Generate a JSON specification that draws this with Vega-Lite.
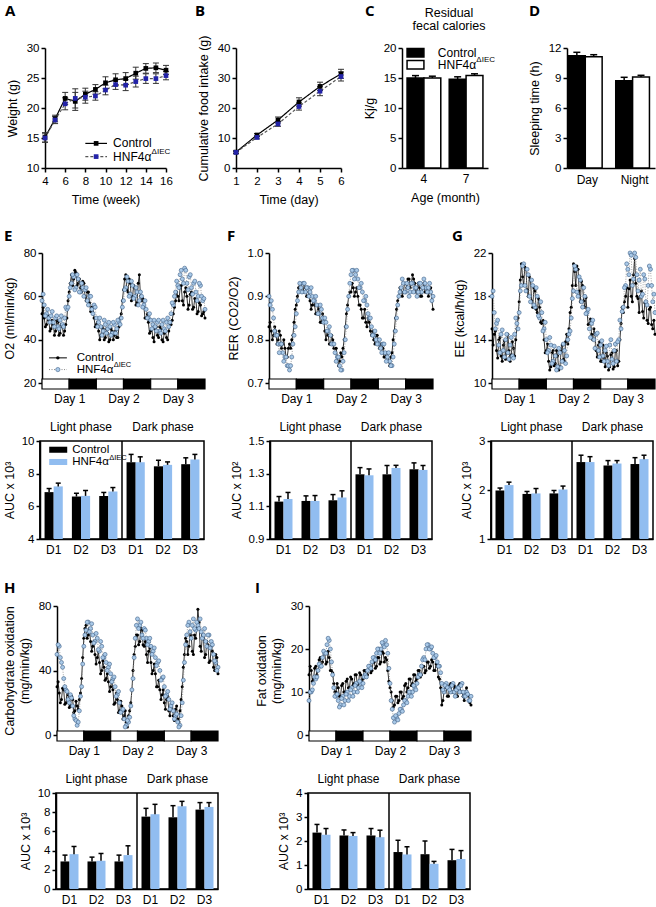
{
"$schema":"https://vega.github.io/schema/vega-lite/v6.json",
"padding":0,
"background":"white",
"data":{"values":[]},
"datasets":{
"ld":[{"s":0,"e":12,"p":"L"},{"s":12,"e":24,"p":"D"},{"s":24,"e":36,"p":"L"},{"s":36,"e":48,"p":"D"},{"s":48,"e":60,"p":"L"},{"s":60,"e":72,"p":"D"}],
"ph":[{"p":"Light phase"},{"p":"Dark phase"}],
"A":[{"x":4,"g":"C","m":15.1,"lo":14.3,"hi":15.9},{"x":5,"g":"C","m":18.2,"lo":17.7,"hi":18.8},{"x":6,"g":"C","m":21.6,"lo":20.6,"hi":22.6},{"x":7,"g":"C","m":21.1,"lo":19.6,"hi":22.6},{"x":8,"g":"C","m":22.3,"lo":21.3,"hi":23.3},{"x":9,"g":"C","m":23.1,"lo":22.3,"hi":23.9},{"x":10,"g":"C","m":24.2,"lo":23.2,"hi":25.2},{"x":11,"g":"C","m":24.7,"lo":23.7,"hi":25.7},{"x":12,"g":"C","m":24.9,"lo":23.9,"hi":25.9},{"x":13,"g":"C","m":25.8,"lo":24.8,"hi":26.8},{"x":14,"g":"C","m":26.6,"lo":25.8,"hi":27.4},{"x":15,"g":"C","m":26.7,"lo":25.9,"hi":27.5},{"x":16,"g":"C","m":26.3,"lo":25.6,"hi":27.1},
{"x":4,"g":"H","m":15.0,"lo":14.3,"hi":15.7},{"x":5,"g":"H","m":18.0,"lo":17.4,"hi":18.6},{"x":6,"g":"H","m":20.7,"lo":19.7,"hi":21.7},{"x":7,"g":"H","m":21.6,"lo":20.0,"hi":23.2},{"x":8,"g":"H","m":21.8,"lo":20.8,"hi":22.8},{"x":9,"g":"H","m":22.0,"lo":21.3,"hi":22.7},{"x":10,"g":"H","m":23.0,"lo":22.2,"hi":23.8},{"x":11,"g":"H","m":23.9,"lo":23.1,"hi":24.7},{"x":12,"g":"H","m":23.8,"lo":22.9,"hi":24.7},{"x":13,"g":"H","m":24.4,"lo":23.5,"hi":25.3},{"x":14,"g":"H","m":24.9,"lo":24.1,"hi":25.7},{"x":15,"g":"H","m":24.9,"lo":24.1,"hi":25.7},{"x":16,"g":"H","m":25.4,"lo":24.7,"hi":26.1}],
"B":[{"x":1,"g":"C","m":5.3,"lo":4.9,"hi":5.7},{"x":2,"g":"C","m":11.0,"lo":10.5,"hi":11.5},{"x":3,"g":"C","m":16.0,"lo":15.0,"hi":17.0},{"x":4,"g":"C","m":22.0,"lo":20.6,"hi":23.4},{"x":5,"g":"C","m":27.2,"lo":25.8,"hi":28.6},{"x":6,"g":"C","m":31.4,"lo":29.9,"hi":32.9},
{"x":1,"g":"H","m":5.2,"lo":4.8,"hi":5.6},{"x":2,"g":"H","m":10.2,"lo":9.7,"hi":10.7},{"x":3,"g":"H","m":14.7,"lo":13.9,"hi":15.5},{"x":4,"g":"H","m":20.5,"lo":19.3,"hi":21.7},{"x":5,"g":"H","m":25.6,"lo":24.1,"hi":27.1},{"x":6,"g":"H","m":30.5,"lo":29.0,"hi":32.0}],
"Cb":[{"a":"4","g":"C","m":15.0,"u":15.4},{"a":"4","g":"H","m":15.0,"u":15.3},{"a":"7","g":"C","m":14.8,"u":15.2},{"a":"7","g":"H","m":15.4,"u":15.7}],
"Db":[{"a":"Day","g":"C","m":11.23,"u":11.57},{"a":"Day","g":"H","m":11.13,"u":11.33},{"a":"Night","g":"C","m":8.73,"u":9.07},{"a":"Night","g":"H","m":9.1,"u":9.27}],
"Eb":[{"b":"L1C","g":"C","m":6.87,"u":7.09},{"b":"L1H","g":"H","m":7.22,"u":7.42},{"b":"L2C","g":"C","m":6.6,"u":6.8},{"b":"L2H","g":"H","m":6.64,"u":6.97},{"b":"L3C","g":"C","m":6.64,"u":6.85},{"b":"L3H","g":"H","m":6.91,"u":7.15},{"b":"N1C","g":"C","m":8.7,"u":9.18},{"b":"N1H","g":"H","m":8.7,"u":9.03},{"b":"N2C","g":"C","m":8.45,"u":8.82},{"b":"N2H","g":"H","m":8.54,"u":8.72},{"b":"N3C","g":"C","m":8.58,"u":8.97},{"b":"N3H","g":"H","m":8.87,"u":9.18}],
"Fb":[{"b":"L1C","g":"C","m":1.129,"u":1.16},{"b":"L1H","g":"H","m":1.145,"u":1.185},{"b":"L2C","g":"C","m":1.133,"u":1.164},{"b":"L2H","g":"H","m":1.133,"u":1.166},{"b":"L3C","g":"C","m":1.137,"u":1.172},{"b":"L3H","g":"H","m":1.154,"u":1.195},{"b":"N1C","g":"C","m":1.296,"u":1.337},{"b":"N1H","g":"H","m":1.29,"u":1.329},{"b":"N2C","g":"C","m":1.296,"u":1.35},{"b":"N2H","g":"H","m":1.335,"u":1.351},{"b":"N3C","g":"C","m":1.327,"u":1.366},{"b":"N3H","g":"H","m":1.323,"u":1.35}],
"Gb":[{"b":"L1C","g":"C","m":1.99,"u":2.04},{"b":"L1H","g":"H","m":2.10,"u":2.16},{"b":"L2C","g":"C","m":1.92,"u":1.97},{"b":"L2H","g":"H","m":1.93,"u":2.03},{"b":"L3C","g":"C","m":1.93,"u":1.99},{"b":"L3H","g":"H","m":2.01,"u":2.08},{"b":"N1C","g":"C","m":2.57,"u":2.71},{"b":"N1H","g":"H","m":2.57,"u":2.68},{"b":"N2C","g":"C","m":2.5,"u":2.6},{"b":"N2H","g":"H","m":2.54,"u":2.6},{"b":"N3C","g":"C","m":2.53,"u":2.66},{"b":"N3H","g":"H","m":2.63,"u":2.71}],
"Hb":[{"b":"L1C","g":"C","m":2.87,"u":3.53},{"b":"L1H","g":"H","m":3.63,"u":4.43},{"b":"L2C","g":"C","m":2.87,"u":3.32},{"b":"L2H","g":"H","m":2.94,"u":3.7},{"b":"L3C","g":"C","m":2.87,"u":3.53},{"b":"L3H","g":"H","m":3.53,"u":4.5},{"b":"N1C","g":"C","m":7.54,"u":8.4},{"b":"N1H","g":"H","m":7.79,"u":8.82},{"b":"N2C","g":"C","m":7.47,"u":8.68},{"b":"N2H","g":"H","m":8.62,"u":9.13},{"b":"N3C","g":"C","m":8.27,"u":9.0},{"b":"N3H","g":"H","m":8.55,"u":9.0}],
"Ib":[{"b":"L1C","g":"C","m":2.35,"u":2.69},{"b":"L1H","g":"H","m":2.26,"u":2.52},{"b":"L2C","g":"C","m":2.23,"u":2.46},{"b":"L2H","g":"H","m":2.21,"u":2.35},{"b":"L3C","g":"C","m":2.23,"u":2.52},{"b":"L3H","g":"H","m":2.16,"u":2.45},{"b":"N1C","g":"C","m":1.54,"u":2.03},{"b":"N1H","g":"H","m":1.44,"u":1.76},{"b":"N2C","g":"C","m":1.45,"u":2.0},{"b":"N2H","g":"H","m":1.05,"u":1.15},{"b":"N3C","g":"C","m":1.2,"u":1.65},{"b":"N3H","g":"H","m":1.25,"u":1.6}],
"E":[{"t":0,"c":52,"h":58},{"t":1,"c":50,"h":56},{"t":2,"c":47,"h":52},{"t":3,"c":49,"h":50},{"t":4,"c":45,"h":51},{"t":5,"c":47,"h":48},{"t":6,"c":44,"h":50},{"t":7,"c":48,"h":46},{"t":8,"c":43,"h":49},{"t":9,"c":46,"h":47},{"t":10,"c":44,"h":50},{"t":11,"c":50,"h":54},{"t":12,"c":62,"h":60},{"t":13,"c":70,"h":66},{"t":14,"c":68,"h":69},{"t":15,"c":71,"h":64},{"t":16,"c":66,"h":68},{"t":17,"c":64,"h":62},{"t":18,"c":67,"h":64},{"t":19,"c":60,"h":63},{"t":20,"c":62,"h":58},{"t":21,"c":57,"h":60},{"t":22,"c":55,"h":54},{"t":23,"c":50,"h":56},{"t":24,"c":47,"h":50},{"t":25,"c":44,"h":48},{"t":26,"c":42,"h":46},{"t":27,"c":45,"h":44},{"t":28,"c":41,"h":47},{"t":29,"c":43,"h":45},{"t":30,"c":40,"h":46},{"t":31,"c":44,"h":43},{"t":32,"c":42,"h":47},{"t":33,"c":41,"h":45},{"t":34,"c":46,"h":48},{"t":35,"c":52,"h":50},{"t":36,"c":63,"h":58},{"t":37,"c":70,"h":64},{"t":38,"c":62,"h":67},{"t":39,"c":66,"h":61},{"t":40,"c":60,"h":65},{"t":41,"c":64,"h":60},{"t":42,"c":57,"h":62},{"t":43,"c":70,"h":58},{"t":44,"c":58,"h":60},{"t":45,"c":55,"h":56},{"t":46,"c":50,"h":54},{"t":47,"c":48,"h":50},{"t":48,"c":44,"h":49},{"t":49,"c":41,"h":47},{"t":50,"c":45,"h":46},{"t":51,"c":42,"h":48},{"t":52,"c":46,"h":44},{"t":53,"c":40,"h":47},{"t":54,"c":43,"h":45},{"t":55,"c":41,"h":48},{"t":56,"c":44,"h":46},{"t":57,"c":47,"h":52},{"t":58,"c":52,"h":56},{"t":59,"c":58,"h":62},{"t":60,"c":60,"h":65},{"t":61,"c":64,"h":70},{"t":62,"c":58,"h":68},{"t":63,"c":62,"h":73},{"t":64,"c":60,"h":66},{"t":65,"c":56,"h":69},{"t":66,"c":62,"h":64},{"t":67,"c":55,"h":66},{"t":68,"c":58,"h":62},{"t":69,"c":53,"h":60},{"t":70,"c":56,"h":65},{"t":71,"c":52,"h":58},{"t":72,"c":50,"h":54},
{"t":0.5,"c":55,"h":61},{"t":1.5,"c":46,"h":51},{"t":2.5,"c":51,"h":54},{"t":3.5,"c":44,"h":48},{"t":4.5,"c":49,"h":53},{"t":5.5,"c":42,"h":46},{"t":6.5,"c":49,"h":51},{"t":7.5,"c":42,"h":45},{"t":8.5,"c":47,"h":51},{"t":9.5,"c":42,"h":46},{"t":10.5,"c":47,"h":55},{"t":11.5,"c":58,"h":55},{"t":12.5,"c":66,"h":64},{"t":13.5,"c":65,"h":70},{"t":14.5,"c":72,"h":63},{"t":15.5,"c":65,"h":70},{"t":16.5,"c":68,"h":62},{"t":17.5,"c":62,"h":66},{"t":18.5,"c":66,"h":60},{"t":19.5,"c":58,"h":64},{"t":20.5,"c":62,"h":56},{"t":21.5,"c":53,"h":60},{"t":22.5,"c":55,"h":52},{"t":23.5,"c":46,"h":55},{"t":24.5,"c":48,"h":46},{"t":25.5,"c":40,"h":50},{"t":26.5,"c":46,"h":42},{"t":27.5,"c":40,"h":49},{"t":28.5,"c":45,"h":43},{"t":29.5,"c":39,"h":48},{"t":30.5,"c":45,"h":42},{"t":31.5,"c":40,"h":48},{"t":32.5,"c":44,"h":43},{"t":33.5,"c":41,"h":49},{"t":34.5,"c":50,"h":47},{"t":35.5,"c":58,"h":55},{"t":36.5,"c":68,"h":63},{"t":37.5,"c":63,"h":69},{"t":38.5,"c":68,"h":60},{"t":39.5,"c":58,"h":67},{"t":40.5,"c":65,"h":59},{"t":41.5,"c":56,"h":64},{"t":42.5,"c":66,"h":56},{"t":43.5,"c":60,"h":62},{"t":44.5,"c":59,"h":55},{"t":45.5,"c":50,"h":58},{"t":46.5,"c":52,"h":50},{"t":47.5,"c":43,"h":52},{"t":48.5,"c":45,"h":45},{"t":49.5,"c":39,"h":49},{"t":50.5,"c":46,"h":44},{"t":51.5,"c":41,"h":49},{"t":52.5,"c":45,"h":43},{"t":53.5,"c":39,"h":49},{"t":54.5,"c":44,"h":44},{"t":55.5,"c":40,"h":50},{"t":56.5,"c":48,"h":48},{"t":57.5,"c":49,"h":57},{"t":58.5,"c":55,"h":60},{"t":59.5,"c":62,"h":67},{"t":60.5,"c":58,"h":64},{"t":61.5,"c":65,"h":72},{"t":62.5,"c":56,"h":66},{"t":63.5,"c":64,"h":72},{"t":64.5,"c":54,"h":63},{"t":65.5,"c":61,"h":70},{"t":66.5,"c":54,"h":61},{"t":67.5,"c":59,"h":67},{"t":68.5,"c":52,"h":58},{"t":69.5,"c":57,"h":66},{"t":70.5,"c":51,"h":60},{"t":71.5,"c":53,"h":59}],
"F":[{"t":0,"c":0.83,"h":0.90},{"t":1,"c":0.82,"h":0.89},{"t":2,"c":0.81,"h":0.85},{"t":3,"c":0.82,"h":0.81},{"t":4,"c":0.80,"h":0.79},{"t":5,"c":0.81,"h":0.79},{"t":6,"c":0.79,"h":0.77},{"t":7,"c":0.78,"h":0.76},{"t":8,"c":0.76,"h":0.74},{"t":9,"c":0.79,"h":0.73},{"t":10,"c":0.80,"h":0.76},{"t":11,"c":0.84,"h":0.81},{"t":12,"c":0.88,"h":0.86},{"t":13,"c":0.92,"h":0.91},{"t":14,"c":0.93,"h":0.92},{"t":15,"c":0.91,"h":0.93},{"t":16,"c":0.92,"h":0.91},{"t":17,"c":0.90,"h":0.92},{"t":18,"c":0.89,"h":0.91},{"t":19,"c":0.88,"h":0.90},{"t":20,"c":0.88,"h":0.89},{"t":21,"c":0.86,"h":0.88},{"t":22,"c":0.87,"h":0.86},{"t":23,"c":0.84,"h":0.87},{"t":24,"c":0.85,"h":0.84},{"t":25,"c":0.80,"h":0.84},{"t":26,"c":0.81,"h":0.82},{"t":27,"c":0.79,"h":0.81},{"t":28,"c":0.80,"h":0.79},{"t":29,"c":0.78,"h":0.77},{"t":30,"c":0.76,"h":0.76},{"t":31,"c":0.75,"h":0.74},{"t":32,"c":0.76,"h":0.73},{"t":33,"c":0.80,"h":0.77},{"t":34,"c":0.86,"h":0.83},{"t":35,"c":0.90,"h":0.90},{"t":36,"c":0.91,"h":0.95},{"t":37,"c":0.92,"h":0.96},{"t":38,"c":0.91,"h":0.95},{"t":39,"c":0.90,"h":0.94},{"t":40,"c":0.88,"h":0.92},{"t":41,"c":0.85,"h":0.91},{"t":42,"c":0.87,"h":0.89},{"t":43,"c":0.83,"h":0.88},{"t":44,"c":0.84,"h":0.85},{"t":45,"c":0.81,"h":0.83},{"t":46,"c":0.80,"h":0.81},{"t":47,"c":0.81,"h":0.80},{"t":48,"c":0.80,"h":0.79},{"t":49,"c":0.79,"h":0.78},{"t":50,"c":0.78,"h":0.79},{"t":51,"c":0.76,"h":0.77},{"t":52,"c":0.77,"h":0.76},{"t":53,"c":0.74,"h":0.75},{"t":54,"c":0.77,"h":0.74},{"t":55,"c":0.82,"h":0.79},{"t":56,"c":0.87,"h":0.85},{"t":57,"c":0.90,"h":0.90},{"t":58,"c":0.92,"h":0.92},{"t":59,"c":0.91,"h":0.93},{"t":60,"c":0.93,"h":0.91},{"t":61,"c":0.94,"h":0.92},{"t":62,"c":0.92,"h":0.91},{"t":63,"c":0.95,"h":0.93},{"t":64,"c":0.93,"h":0.92},{"t":65,"c":0.91,"h":0.90},{"t":66,"c":0.92,"h":0.93},{"t":67,"c":0.90,"h":0.91},{"t":68,"c":0.93,"h":0.94},{"t":69,"c":0.91,"h":0.92},{"t":70,"c":0.90,"h":0.92},{"t":71,"c":0.92,"h":0.91},{"t":72,"c":0.87,"h":0.90},
{"t":0.5,"c":0.84,"h":0.88},{"t":1.5,"c":0.80,"h":0.87},{"t":2.5,"c":0.83,"h":0.82},{"t":3.5,"c":0.79,"h":0.81},{"t":4.5,"c":0.82,"h":0.77},{"t":5.5,"c":0.78,"h":0.79},{"t":6.5,"c":0.80,"h":0.75},{"t":7.5,"c":0.76,"h":0.76},{"t":8.5,"c":0.78,"h":0.74},{"t":9.5,"c":0.78,"h":0.74},{"t":10.5,"c":0.81,"h":0.79},{"t":11.5,"c":0.87,"h":0.83},{"t":12.5,"c":0.90,"h":0.89},{"t":13.5,"c":0.93,"h":0.93},{"t":14.5,"c":0.91,"h":0.91},{"t":15.5,"c":0.93,"h":0.93},{"t":16.5,"c":0.90,"h":0.92},{"t":17.5,"c":0.91,"h":0.90},{"t":18.5,"c":0.87,"h":0.92},{"t":19.5,"c":0.89,"h":0.89},{"t":20.5,"c":0.86,"h":0.90},{"t":21.5,"c":0.88,"h":0.86},{"t":22.5,"c":0.84,"h":0.88},{"t":23.5,"c":0.86,"h":0.85},{"t":24.5,"c":0.82,"h":0.85},{"t":25.5,"c":0.82,"h":0.82},{"t":26.5,"c":0.79,"h":0.83},{"t":27.5,"c":0.81,"h":0.79},{"t":28.5,"c":0.78,"h":0.79},{"t":29.5,"c":0.78,"h":0.75},{"t":30.5,"c":0.74,"h":0.76},{"t":31.5,"c":0.77,"h":0.73},{"t":32.5,"c":0.78,"h":0.75},{"t":33.5,"c":0.83,"h":0.80},{"t":34.5,"c":0.88,"h":0.87},{"t":35.5,"c":0.91,"h":0.93},{"t":36.5,"c":0.93,"h":0.96},{"t":37.5,"c":0.90,"h":0.94},{"t":38.5,"c":0.92,"h":0.96},{"t":39.5,"c":0.88,"h":0.92},{"t":40.5,"c":0.87,"h":0.93},{"t":41.5,"c":0.85,"h":0.89},{"t":42.5,"c":0.84,"h":0.90},{"t":43.5,"c":0.85,"h":0.86},{"t":44.5,"c":0.82,"h":0.85},{"t":45.5,"c":0.82,"h":0.81},{"t":46.5,"c":0.79,"h":0.82},{"t":47.5,"c":0.81,"h":0.79},{"t":48.5,"c":0.78,"h":0.80},{"t":49.5,"c":0.79,"h":0.77},{"t":50.5,"c":0.76,"h":0.79},{"t":51.5,"c":0.77,"h":0.75},{"t":52.5,"c":0.75,"h":0.77},{"t":53.5,"c":0.76,"h":0.74},{"t":54.5,"c":0.80,"h":0.76},{"t":55.5,"c":0.85,"h":0.82},{"t":56.5,"c":0.89,"h":0.88},{"t":57.5,"c":0.92,"h":0.91},{"t":58.5,"c":0.90,"h":0.94},{"t":59.5,"c":0.93,"h":0.91},{"t":60.5,"c":0.92,"h":0.93},{"t":61.5,"c":0.94,"h":0.90},{"t":62.5,"c":0.93,"h":0.93},{"t":63.5,"c":0.94,"h":0.91},{"t":64.5,"c":0.91,"h":0.92},{"t":65.5,"c":0.93,"h":0.91},{"t":66.5,"c":0.90,"h":0.93},{"t":67.5,"c":0.92,"h":0.92},{"t":68.5,"c":0.91,"h":0.93},{"t":69.5,"c":0.92,"h":0.91},{"t":70.5,"c":0.91,"h":0.93},{"t":71.5,"c":0.89,"h":0.89}],
"G":[{"t":0,"c":15.0,"h":18.0},{"t":1,"c":14.5,"h":16.5},{"t":2,"c":13.0,"h":15.5},{"t":3,"c":14.0,"h":13.5},{"t":4,"c":12.5,"h":14.5},{"t":5,"c":13.5,"h":13.0},{"t":6,"c":12.2,"h":14.0},{"t":7,"c":14.5,"h":12.8},{"t":8,"c":12.0,"h":13.5},{"t":9,"c":13.8,"h":12.5},{"t":10,"c":12.5,"h":14.5},{"t":11,"c":15.0,"h":15.5},{"t":12,"c":17.5,"h":16.5},{"t":13,"c":21.0,"h":19.0},{"t":14,"c":19.0,"h":21.0},{"t":15,"c":20.5,"h":18.5},{"t":16,"c":18.0,"h":20.0},{"t":17,"c":19.5,"h":17.5},{"t":18,"c":17.0,"h":19.0},{"t":19,"c":18.5,"h":17.0},{"t":20,"c":16.5,"h":18.0},{"t":21,"c":17.0,"h":16.0},{"t":22,"c":15.5,"h":16.5},{"t":23,"c":14.0,"h":15.0},{"t":24,"c":13.0,"h":14.0},{"t":25,"c":12.0,"h":13.0},{"t":26,"c":11.5,"h":13.5},{"t":27,"c":13.0,"h":12.0},{"t":28,"c":11.8,"h":12.5},{"t":29,"c":12.5,"h":11.5},{"t":30,"c":11.5,"h":12.8},{"t":31,"c":13.5,"h":12.0},{"t":32,"c":12.0,"h":13.0},{"t":33,"c":14.5,"h":12.5},{"t":34,"c":15.0,"h":14.5},{"t":35,"c":17.0,"h":16.0},{"t":36,"c":21.0,"h":18.5},{"t":37,"c":19.0,"h":20.5},{"t":38,"c":20.5,"h":18.0},{"t":39,"c":17.5,"h":19.5},{"t":40,"c":19.0,"h":17.0},{"t":41,"c":17.0,"h":18.0},{"t":42,"c":16.5,"h":16.5},{"t":43,"c":15.5,"h":15.0},{"t":44,"c":14.5,"h":15.5},{"t":45,"c":15.0,"h":14.0},{"t":46,"c":13.0,"h":14.5},{"t":47,"c":13.5,"h":13.0},{"t":48,"c":12.0,"h":13.5},{"t":49,"c":13.5,"h":12.5},{"t":50,"c":11.5,"h":13.0},{"t":51,"c":12.5,"h":12.0},{"t":52,"c":11.5,"h":13.5},{"t":53,"c":12.8,"h":12.2},{"t":54,"c":11.5,"h":13.0},{"t":55,"c":13.0,"h":12.0},{"t":56,"c":12.0,"h":14.0},{"t":57,"c":15.5,"h":15.0},{"t":58,"c":16.5,"h":17.0},{"t":59,"c":18.0,"h":19.0},{"t":60,"c":17.0,"h":20.5},{"t":61,"c":19.5,"h":22.0},{"t":62,"c":17.5,"h":19.0},{"t":63,"c":21.5,"h":22.0},{"t":64,"c":18.0,"h":20.0},{"t":65,"c":16.5,"h":19.5},{"t":66,"c":18.5,"h":18.0},{"t":67,"c":16.0,"h":20.0},{"t":68,"c":17.5,"h":17.5},{"t":69,"c":15.5,"h":19.0},{"t":70,"c":17.0,"h":20.5},{"t":71,"c":15.0,"h":17.5},{"t":72,"c":14.5,"h":16.5},
{"t":0.5,"c":13.5,"h":18.5},{"t":1.5,"c":14.8,"h":15.0},{"t":2.5,"c":12.3,"h":15.8},{"t":3.5,"c":14.2,"h":12.8},{"t":4.5,"c":12.0,"h":14.9},{"t":5.5,"c":13.9,"h":12.4},{"t":6.5,"c":12.8,"h":14.5},{"t":7.5,"c":13.0,"h":12.2},{"t":8.5,"c":12.6,"h":14.2},{"t":9.5,"c":13.2,"h":12.3},{"t":10.5,"c":14.0,"h":16.0},{"t":11.5,"c":16.0,"h":15.0},{"t":12.5,"c":19.5,"h":18.5},{"t":13.5,"c":19.8,"h":20.8},{"t":14.5,"c":20.7,"h":19.0},{"t":15.5,"c":18.6,"h":20.5},{"t":16.5,"c":19.8,"h":18.0},{"t":17.5,"c":17.6,"h":19.5},{"t":18.5,"c":18.8,"h":17.2},{"t":19.5,"c":16.8,"h":18.8},{"t":20.5,"c":17.8,"h":16.2},{"t":21.5,"c":15.6,"h":17.5},{"t":22.5,"c":15.8,"h":14.8},{"t":23.5,"c":12.8,"h":15.6},{"t":24.5,"c":13.6,"h":12.8},{"t":25.5,"c":11.2,"h":14.2},{"t":26.5,"c":12.8,"h":11.8},{"t":27.5,"c":11.6,"h":13.4},{"t":28.5,"c":13.0,"h":11.2},{"t":29.5,"c":11.2,"h":13.2},{"t":30.5,"c":12.9,"h":11.4},{"t":31.5,"c":12.2,"h":13.6},{"t":32.5,"c":13.8,"h":11.8},{"t":33.5,"c":13.6,"h":14.0},{"t":34.5,"c":16.5,"h":14.8},{"t":35.5,"c":19.0,"h":17.8},{"t":36.5,"c":20.3,"h":20.8},{"t":37.5,"c":20.8,"h":18.4},{"t":38.5,"c":18.5,"h":19.8},{"t":39.5,"c":19.4,"h":17.5},{"t":40.5,"c":17.6,"h":18.8},{"t":41.5,"c":17.9,"h":16.4},{"t":42.5,"c":15.4,"h":16.8},{"t":43.5,"c":15.9,"h":14.2},{"t":44.5,"c":14.0,"h":15.8},{"t":45.5,"c":14.5,"h":13.2},{"t":46.5,"c":12.4,"h":14.6},{"t":47.5,"c":13.8,"h":12.4},{"t":48.5,"c":12.0,"h":13.9},{"t":49.5,"c":12.3,"h":12.0},{"t":50.5,"c":12.8,"h":13.4},{"t":51.5,"c":11.2,"h":11.6},{"t":52.5,"c":12.6,"h":14.0},{"t":53.5,"c":11.3,"h":11.8},{"t":54.5,"c":12.9,"h":13.6},{"t":55.5,"c":11.6,"h":13.8},{"t":56.5,"c":14.0,"h":15.8},{"t":57.5,"c":17.0,"h":16.6},{"t":58.5,"c":17.5,"h":18.8},{"t":59.5,"c":18.8,"h":21.0},{"t":60.5,"c":18.7,"h":20.0},{"t":61.5,"c":18.0,"h":21.8},{"t":62.5,"c":20.0,"h":19.6},{"t":63.5,"c":19.2,"h":21.6},{"t":64.5,"c":17.8,"h":18.5},{"t":65.5,"c":18.0,"h":20.5},{"t":66.5,"c":16.6,"h":18.2},{"t":67.5,"c":17.4,"h":19.6},{"t":68.5,"c":15.8,"h":17.2},{"t":69.5,"c":16.8,"h":20.8},{"t":70.5,"c":15.4,"h":19.0},{"t":71.5,"c":15.8,"h":18.2}],
"H":[{"t":0,"c":30,"h":50},{"t":1,"c":26,"h":55},{"t":2,"c":22,"h":45},{"t":3,"c":28,"h":35},{"t":4,"c":20,"h":28},{"t":5,"c":25,"h":22},{"t":6,"c":18,"h":25},{"t":7,"c":22,"h":18},{"t":8,"c":15,"h":10},{"t":9,"c":18,"h":6},{"t":10,"c":22,"h":15},{"t":11,"c":35,"h":30},{"t":12,"c":60,"h":55},{"t":13,"c":68,"h":65},{"t":14,"c":62,"h":70},{"t":15,"c":58,"h":66},{"t":16,"c":55,"h":62},{"t":17,"c":50,"h":58},{"t":18,"c":48,"h":60},{"t":19,"c":45,"h":52},{"t":20,"c":40,"h":55},{"t":21,"c":42,"h":48},{"t":22,"c":35,"h":45},{"t":23,"c":33,"h":42},{"t":24,"c":30,"h":38},{"t":25,"c":28,"h":35},{"t":26,"c":20,"h":30},{"t":27,"c":22,"h":25},{"t":28,"c":15,"h":20},{"t":29,"c":18,"h":15},{"t":30,"c":12,"h":10},{"t":31,"c":8,"h":6},{"t":32,"c":12,"h":8},{"t":33,"c":20,"h":18},{"t":34,"c":40,"h":35},{"t":35,"c":55,"h":60},{"t":36,"c":62,"h":72},{"t":37,"c":58,"h":68},{"t":38,"c":65,"h":62},{"t":39,"c":55,"h":66},{"t":40,"c":50,"h":60},{"t":41,"c":52,"h":58},{"t":42,"c":45,"h":55},{"t":43,"c":40,"h":52},{"t":44,"c":38,"h":48},{"t":45,"c":30,"h":45},{"t":46,"c":28,"h":40},{"t":47,"c":25,"h":35},{"t":48,"c":20,"h":30},{"t":49,"c":22,"h":25},{"t":50,"c":15,"h":22},{"t":51,"c":18,"h":18},{"t":52,"c":12,"h":15},{"t":53,"c":16,"h":12},{"t":54,"c":10,"h":8},{"t":55,"c":15,"h":6},{"t":56,"c":30,"h":20},{"t":57,"c":50,"h":45},{"t":58,"c":58,"h":62},{"t":59,"c":55,"h":70},{"t":60,"c":62,"h":60},{"t":61,"c":50,"h":72},{"t":62,"c":60,"h":65},{"t":63,"c":78,"h":68},{"t":64,"c":55,"h":72},{"t":65,"c":62,"h":60},{"t":66,"c":48,"h":66},{"t":67,"c":58,"h":55},{"t":68,"c":45,"h":62},{"t":69,"c":55,"h":58},{"t":70,"c":42,"h":50},{"t":71,"c":50,"h":45},{"t":72,"c":38,"h":42},
{"t":0.5,"c":33,"h":56},{"t":1.5,"c":20,"h":48},{"t":2.5,"c":29,"h":42},{"t":3.5,"c":19,"h":30},{"t":4.5,"c":27,"h":27},{"t":5.5,"c":17,"h":20},{"t":6.5,"c":24,"h":23},{"t":7.5,"c":14,"h":12},{"t":8.5,"c":21,"h":9},{"t":9.5,"c":16,"h":8},{"t":10.5,"c":26,"h":24},{"t":11.5,"c":48,"h":44},{"t":12.5,"c":66,"h":62},{"t":13.5,"c":60,"h":70},{"t":14.5,"c":66,"h":64},{"t":15.5,"c":52,"h":69},{"t":16.5,"c":58,"h":57},{"t":17.5,"c":44,"h":63},{"t":18.5,"c":52,"h":53},{"t":19.5,"c":38,"h":58},{"t":20.5,"c":46,"h":48},{"t":21.5,"c":34,"h":50},{"t":22.5,"c":38,"h":40},{"t":23.5,"c":27,"h":44},{"t":24.5,"c":34,"h":33},{"t":25.5,"c":19,"h":36},{"t":26.5,"c":26,"h":24},{"t":27.5,"c":14,"h":27},{"t":28.5,"c":21,"h":14},{"t":29.5,"c":10,"h":16},{"t":30.5,"c":15,"h":5},{"t":31.5,"c":5,"h":9},{"t":32.5,"c":15,"h":11},{"t":33.5,"c":28,"h":28},{"t":34.5,"c":50,"h":48},{"t":35.5,"c":62,"h":68},{"t":36.5,"c":56,"h":66},{"t":37.5,"c":66,"h":70},{"t":38.5,"c":56,"h":60},{"t":39.5,"c":58,"h":65},{"t":40.5,"c":45,"h":56},{"t":41.5,"c":54,"h":60},{"t":42.5,"c":38,"h":50},{"t":43.5,"c":44,"h":54},{"t":44.5,"c":30,"h":43},{"t":45.5,"c":34,"h":46},{"t":46.5,"c":22,"h":34},{"t":47.5,"c":28,"h":36},{"t":48.5,"c":16,"h":24},{"t":49.5,"c":24,"h":27},{"t":50.5,"c":12,"h":16},{"t":51.5,"c":20,"h":20},{"t":52.5,"c":9,"h":10},{"t":53.5,"c":18,"h":13},{"t":54.5,"c":8,"h":5},{"t":55.5,"c":22,"h":12},{"t":56.5,"c":42,"h":34},{"t":57.5,"c":60,"h":56},{"t":58.5,"c":50,"h":68},{"t":59.5,"c":64,"h":64},{"t":60.5,"c":52,"h":68},{"t":61.5,"c":62,"h":66},{"t":62.5,"c":66,"h":70},{"t":63.5,"c":70,"h":66},{"t":64.5,"c":52,"h":64},{"t":65.5,"c":60,"h":62},{"t":66.5,"c":50,"h":58},{"t":67.5,"c":56,"h":62},{"t":68.5,"c":46,"h":54},{"t":69.5,"c":52,"h":56},{"t":70.5,"c":40,"h":46},{"t":71.5,"c":48,"h":40}],
"I":[{"t":0,"c":14,"h":8},{"t":1,"c":15,"h":10},{"t":2,"c":13,"h":12},{"t":3,"c":16,"h":13},{"t":4,"c":15,"h":15},{"t":5,"c":18,"h":16},{"t":6,"c":17,"h":18},{"t":7,"c":19,"h":19},{"t":8,"c":17,"h":21},{"t":9,"c":18,"h":22},{"t":10,"c":15,"h":17},{"t":11,"c":12,"h":11},{"t":12,"c":10,"h":9},{"t":13,"c":11,"h":8},{"t":14,"c":9,"h":7},{"t":15,"c":12,"h":9},{"t":16,"c":10,"h":8},{"t":17,"c":13,"h":10},{"t":18,"c":11,"h":9},{"t":19,"c":13,"h":11},{"t":20,"c":12,"h":10},{"t":21,"c":14,"h":12},{"t":22,"c":12,"h":11},{"t":23,"c":14,"h":12},{"t":24,"c":13,"h":12},{"t":25,"c":15,"h":14},{"t":26,"c":14,"h":15},{"t":27,"c":16,"h":16},{"t":28,"c":15,"h":17},{"t":29,"c":17,"h":18},{"t":30,"c":16,"h":19},{"t":31,"c":18,"h":20},{"t":32,"c":17,"h":20},{"t":33,"c":19,"h":21},{"t":34,"c":18,"h":22},{"t":35,"c":15,"h":19},{"t":36,"c":11,"h":12},{"t":37,"c":8,"h":6},{"t":38,"c":7,"h":3},{"t":39,"c":9,"h":4},{"t":40,"c":8,"h":5},{"t":41,"c":10,"h":6},{"t":42,"c":9,"h":7},{"t":43,"c":12,"h":8},{"t":44,"c":11,"h":9},{"t":45,"c":13,"h":10},{"t":46,"c":12,"h":10},{"t":47,"c":14,"h":11},{"t":48,"c":13,"h":12},{"t":49,"c":15,"h":14},{"t":50,"c":14,"h":16},{"t":51,"c":16,"h":18},{"t":52,"c":15,"h":20},{"t":53,"c":17,"h":21},{"t":54,"c":16,"h":20},{"t":55,"c":17,"h":19},{"t":56,"c":15,"h":18},{"t":57,"c":16,"h":17},{"t":58,"c":13,"h":16},{"t":59,"c":7,"h":12},{"t":60,"c":10,"h":10},{"t":61,"c":11,"h":12},{"t":62,"c":9,"h":11},{"t":63,"c":12,"h":10},{"t":64,"c":10,"h":12},{"t":65,"c":11,"h":9},{"t":66,"c":9,"h":11},{"t":67,"c":12,"h":10},{"t":68,"c":10,"h":12},{"t":69,"c":8,"h":9},{"t":70,"c":11,"h":10},{"t":71,"c":9,"h":8},{"t":72,"c":7,"h":9},
{"t":0.5,"c":16,"h":10},{"t":1.5,"c":12.5,"h":10.5},{"t":2.5,"c":15.5,"h":13.5},{"t":3.5,"c":14,"h":13.5},{"t":4.5,"c":17.5,"h":16.5},{"t":5.5,"c":16,"h":16},{"t":6.5,"c":19.5,"h":19.5},{"t":7.5,"c":16.5,"h":19},{"t":8.5,"c":19.5,"h":22.5},{"t":9.5,"c":15,"h":20},{"t":10.5,"c":14.5,"h":14},{"t":11.5,"c":10,"h":9},{"t":12.5,"c":12,"h":9.5},{"t":13.5,"c":9,"h":6.5},{"t":14.5,"c":11.5,"h":8.5},{"t":15.5,"c":10,"h":7},{"t":16.5,"c":12.5,"h":9.5},{"t":17.5,"c":11,"h":8},{"t":18.5,"c":13.5,"h":10.5},{"t":19.5,"c":11.5,"h":9},{"t":20.5,"c":14,"h":11.5},{"t":21.5,"c":11.5,"h":10},{"t":22.5,"c":14.5,"h":12.5},{"t":23.5,"c":12,"h":11},{"t":24.5,"c":15,"h":13.5},{"t":25.5,"c":13.5,"h":13.5},{"t":26.5,"c":16,"h":16},{"t":27.5,"c":14.5,"h":15.5},{"t":28.5,"c":17,"h":18},{"t":29.5,"c":15.5,"h":17.5},{"t":30.5,"c":18,"h":20},{"t":31.5,"c":16.5,"h":19},{"t":32.5,"c":19.5,"h":21.5},{"t":33.5,"c":17,"h":20.5},{"t":34.5,"c":17.5,"h":21},{"t":35.5,"c":12.5,"h":15.5},{"t":36.5,"c":10,"h":8},{"t":37.5,"c":6.5,"h":4},{"t":38.5,"c":9,"h":4.5},{"t":39.5,"c":7.5,"h":3.5},{"t":40.5,"c":10,"h":6},{"t":41.5,"c":8.5,"h":5.5},{"t":42.5,"c":11.5,"h":8},{"t":43.5,"c":10,"h":7.5},{"t":44.5,"c":13,"h":10},{"t":45.5,"c":11.5,"h":9},{"t":46.5,"c":14,"h":11.5},{"t":47.5,"c":12.5,"h":10.5},{"t":48.5,"c":15,"h":13.5},{"t":49.5,"c":13.5,"h":14},{"t":50.5,"c":16,"h":17.5},{"t":51.5,"c":14.5,"h":17.5},{"t":52.5,"c":17,"h":21},{"t":53.5,"c":15.5,"h":20},{"t":54.5,"c":17.5,"h":20.5},{"t":55.5,"c":15,"h":18},{"t":56.5,"c":16.5,"h":18.5},{"t":57.5,"c":13.5,"h":16},{"t":58.5,"c":11,"h":14.5},{"t":59.5,"c":8,"h":10.5},{"t":60.5,"c":11.5,"h":11.5},{"t":61.5,"c":9,"h":11},{"t":62.5,"c":11.5,"h":10.5},{"t":63.5,"c":10,"h":11.5},{"t":64.5,"c":11.5,"h":10},{"t":65.5,"c":9,"h":10.5},{"t":66.5,"c":11.5,"h":11},{"t":67.5,"c":10,"h":11.5},{"t":68.5,"c":9,"h":10},{"t":69.5,"c":10,"h":9},{"t":70.5,"c":9.5,"h":9.5},{"t":71.5,"c":7.5,"h":8}]
},
"config":{
"view":{"stroke":null},
"font":"Liberation Sans",
"axis":{"domainColor":"black","domainWidth":1.5,"tickColor":"black","tickWidth":1.5,"tickSize":4,"labelColor":"black","labelFontSize":11.5,"labelPadding":2,"labelOverlap":false,"labelFlush":false,"titleColor":"black","titleFontSize":12.5,"titleFontWeight":"normal","titlePadding":7,"grid":false,"labelFont":"Liberation Sans","titleFont":"Liberation Sans"},
"text":{"font":"Liberation Sans","color":"black"}
},
"spacing":0,
"bounds":"full",
"resolve":{"scale":{"color":"independent","fill":"independent","stroke":"independent","strokeDash":"independent"}},
"vconcat":[
{"width":1,"height":4,"mark":"point"},
{"spacing":0,"bounds":"flush","resolve":{"scale":{"color":"independent","fill":"independent","stroke":"independent","strokeDash":"independent"}},"hconcat":[
{"width":45,"height":1,"mark":"point"},
{"width":121,"height":120,"data":{"name":"A"},"resolve":{"axis":{"x":"independent","y":"independent"}},"layer":[
{"mark":{"type":"line","strokeWidth":1.2},"encoding":{"x":{"field":"x","type":"quantitative","scale":{"domain":[4,16],"nice":false,"zero":false},"axis":{"values":[4,6,8,10,12,14,16],"format":"d","title":"Time (week)","labelPadding":3,"labelOverlap":false,"labelFlush":false}},"y":{"field":"m","type":"quantitative","scale":{"domain":[10,30],"nice":false,"zero":false},"axis":{"values":[10,15,20,25,30],"format":"d","title":"Weight (g)","labelOverlap":false}},"stroke":{"field":"g","type":"nominal","scale":{"domain":["C","H"],"range":["black","#555555"]},"legend":null},"strokeDash":{"field":"g","type":"nominal","scale":{"domain":["C","H"],"range":[[1,0],[3,2]]},"legend":null}}},
{"mark":{"type":"rule","color":"#333","strokeWidth":1},"encoding":{"x":{"field":"x","type":"quantitative","axis":null},"y":{"field":"lo","type":"quantitative","axis":null},"y2":{"field":"hi"}}},
{"mark":{"type":"point","shape":"stroke","size":36,"filled":false,"color":"#333","strokeWidth":1,"opacity":1},"encoding":{"x":{"field":"x","type":"quantitative","axis":null},"y":{"field":"hi","type":"quantitative","axis":null}}},
{"mark":{"type":"point","shape":"stroke","size":36,"filled":false,"color":"#333","strokeWidth":1,"opacity":1},"encoding":{"x":{"field":"x","type":"quantitative","axis":null},"y":{"field":"lo","type":"quantitative","axis":null}}},
{"mark":{"type":"square","size":22,"opacity":1},"encoding":{"x":{"field":"x","type":"quantitative","axis":null},"y":{"field":"m","type":"quantitative","axis":null},"fill":{"field":"g","type":"nominal","scale":{"domain":["C","H"],"range":["black","#2323a8"]},"legend":null}}},
{"data":{"values":[{}]},"mark":{"type":"rule","color":"black","strokeWidth":1.2},"encoding":{"x":{"datum":8,"axis":null},"x2":{"datum":10.15},"y":{"datum":14.1,"axis":null}}},
{"data":{"values":[{}]},"mark":{"type":"rule","color":"#555555","strokeWidth":1.2,"strokeDash":[3,2]},"encoding":{"x":{"datum":8,"axis":null},"x2":{"datum":10.15},"y":{"datum":11.9,"axis":null}}},
{"data":{"values":[{}]},"mark":{"type":"square","size":22,"color":"black","opacity":1},"encoding":{"x":{"datum":9.07,"axis":null},"y":{"datum":14.1,"axis":null}}},
{"data":{"values":[{}]},"mark":{"type":"square","size":22,"color":"#2323a8","opacity":1},"encoding":{"x":{"datum":9.07,"axis":null},"y":{"datum":11.9,"axis":null}}},
{"data":{"values":[{}]},"mark":{"type":"text","align":"left","baseline":"middle","fontSize":12},"encoding":{"x":{"datum":10.75,"axis":null},"y":{"datum":14.1,"axis":null},"text":{"value":"Control"}}},
{"data":{"values":[{}]},"mark":{"type":"text","align":"left","baseline":"middle","fontSize":12},"encoding":{"x":{"datum":10.75,"axis":null},"y":{"datum":11.9,"axis":null},"text":{"value":"HNF4α"}}},
{"data":{"values":[{}]},"mark":{"type":"text","align":"left","baseline":"middle","fontSize":8,"dx":38.5,"dy":-5},"encoding":{"x":{"datum":10.75,"axis":null},"y":{"datum":11.9,"axis":null},"text":{"value":"ΔIEC"}}},
{"data":{"values":[{}]},"mark":{"type":"text","align":"left","baseline":"alphabetic","font":"Open Sans","fontSize":15,"fontWeight":"bold","dx":-40,"dy":-32},"encoding":{"x":{"datum":4,"axis":null},"y":{"datum":30,"axis":null},"text":{"value":"A"}}}
]},
{"width":70,"height":1,"mark":"point"},
{"width":105,"height":120,"data":{"name":"B"},"resolve":{"axis":{"x":"independent","y":"independent"}},"layer":[
{"mark":{"type":"line","strokeWidth":1.2},"encoding":{"x":{"field":"x","type":"quantitative","scale":{"domain":[1,6],"nice":false,"zero":false},"axis":{"values":[1,2,3,4,5,6],"format":"d","title":"Time (day)","labelPadding":3,"labelOverlap":false,"labelFlush":false}},"y":{"field":"m","type":"quantitative","scale":{"domain":[0,40],"nice":false,"zero":false},"axis":{"values":[0,10,20,30,40],"format":"d","title":"Cumulative food intake (g)","labelOverlap":false}},"stroke":{"field":"g","type":"nominal","scale":{"domain":["C","H"],"range":["black","#555555"]},"legend":null},"strokeDash":{"field":"g","type":"nominal","scale":{"domain":["C","H"],"range":[[1,0],[3,2]]},"legend":null}}},
{"mark":{"type":"rule","color":"#333","strokeWidth":1},"encoding":{"x":{"field":"x","type":"quantitative","axis":null},"y":{"field":"lo","type":"quantitative","axis":null},"y2":{"field":"hi"}}},
{"mark":{"type":"point","shape":"stroke","size":36,"filled":false,"color":"#333","strokeWidth":1,"opacity":1},"encoding":{"x":{"field":"x","type":"quantitative","axis":null},"y":{"field":"hi","type":"quantitative","axis":null}}},
{"mark":{"type":"point","shape":"stroke","size":36,"filled":false,"color":"#333","strokeWidth":1,"opacity":1},"encoding":{"x":{"field":"x","type":"quantitative","axis":null},"y":{"field":"lo","type":"quantitative","axis":null}}},
{"mark":{"type":"square","size":22,"opacity":1},"encoding":{"x":{"field":"x","type":"quantitative","axis":null},"y":{"field":"m","type":"quantitative","axis":null},"fill":{"field":"g","type":"nominal","scale":{"domain":["C","H"],"range":["black","#2323a8"]},"legend":null}}},
{"data":{"values":[{}]},"mark":{"type":"text","align":"left","baseline":"alphabetic","font":"Open Sans","fontSize":15,"fontWeight":"bold","dx":-41,"dy":-32},"encoding":{"x":{"datum":1,"axis":null},"y":{"datum":40,"axis":null},"text":{"value":"B"}}}
]},
{"width":61,"height":1,"mark":"point"},
{"width":86,"height":120,"data":{"name":"Cb"},"resolve":{"axis":{"x":"independent","y":"independent"}},"layer":[
{"mark":{"type":"bar","stroke":"black","strokeWidth":1.5},"encoding":{"x":{"field":"a","type":"nominal","sort":null,"scale":{"domain":["4","7"],"paddingInner":0.2,"paddingOuter":0.12},"axis":{"title":"Age (month)","labelAngle":0,"ticks":false,"labelPadding":5,"labelFontSize":12}},"xOffset":{"field":"g","type":"nominal","sort":null,"scale":{"domain":["C","H"]}},"y":{"field":"m","type":"quantitative","scale":{"domain":[0,20],"nice":false,"zero":false},"axis":{"values":[0,5,10,15,20],"format":".0f","title":"Kj/g","labelOverlap":false}},"color":{"field":"g","type":"nominal","scale":{"domain":["C","H"],"range":["black","white"]},"legend":null}}},
{"mark":{"type":"rule","color":"black","strokeWidth":1.5},"encoding":{"x":{"field":"a","type":"nominal","sort":null,"axis":null},"xOffset":{"field":"g","type":"nominal","sort":null},"y":{"field":"m","type":"quantitative","axis":null},"y2":{"field":"u"}}},
{"mark":{"type":"point","shape":"stroke","size":49,"filled":false,"color":"black","strokeWidth":1.5,"opacity":1},"encoding":{"x":{"field":"a","type":"nominal","sort":null,"axis":null},"xOffset":{"field":"g","type":"nominal","sort":null},"y":{"field":"u","type":"quantitative","axis":null}}},
{"data":{"values":[{}]},"mark":{"type":"bar","fill":"black","stroke":"black","strokeWidth":1.5},"encoding":{"x":{"datum":"4","axis":null},"xOffset":{"datum":"C"},"y":{"datum":19.9,"axis":null},"y2":{"datum":18.5}}},
{"data":{"values":[{}]},"mark":{"type":"bar","fill":"white","stroke":"black","strokeWidth":1.5},"encoding":{"x":{"datum":"4","axis":null},"xOffset":{"datum":"C"},"y":{"datum":17.9,"axis":null},"y2":{"datum":16.5}}},
{"data":{"values":[{}]},"mark":{"type":"text","align":"left","baseline":"middle","fontSize":12,"dx":5.5},"encoding":{"x":{"datum":"4","axis":null},"xOffset":{"datum":"H"},"y":{"datum":19.2,"axis":null},"text":{"value":"Control"}}},
{"data":{"values":[{}]},"mark":{"type":"text","align":"left","baseline":"middle","fontSize":12,"dx":5.5},"encoding":{"x":{"datum":"4","axis":null},"xOffset":{"datum":"H"},"y":{"datum":17.2,"axis":null},"text":{"value":"HNF4α"}}},
{"data":{"values":[{}]},"mark":{"type":"text","align":"left","baseline":"middle","fontSize":8,"dx":44,"dy":-5},"encoding":{"x":{"datum":"4","axis":null},"xOffset":{"datum":"H"},"y":{"datum":17.2,"axis":null},"text":{"value":"ΔIEC"}}},
{"data":{"values":[{}]},"mark":{"type":"text","align":"center","baseline":"alphabetic","fontSize":12.5,"lineHeight":13,"dx":4,"dy":-31},"encoding":{"y":{"datum":20,"axis":null},"text":{"value":["Residual","fecal calories"]}}},
{"data":{"values":[{}]},"mark":{"type":"text","align":"left","baseline":"alphabetic","font":"Open Sans","fontSize":15,"fontWeight":"bold","dx":-80,"dy":-32},"encoding":{"y":{"datum":20,"axis":null},"text":{"value":"C"}}}
]},
{"width":79,"height":1,"mark":"point"},
{"width":88,"height":120,"data":{"name":"Db"},"resolve":{"axis":{"x":"independent","y":"independent"}},"layer":[
{"mark":{"type":"bar","stroke":"black","strokeWidth":1.5},"encoding":{"x":{"field":"a","type":"nominal","sort":null,"scale":{"domain":["Day","Night"],"paddingInner":0.2,"paddingOuter":0.03},"axis":{"title":null,"labelAngle":0,"ticks":false,"labelPadding":6,"labelFontSize":12}},"xOffset":{"field":"g","type":"nominal","sort":null,"scale":{"domain":["C","H"]}},"y":{"field":"m","type":"quantitative","scale":{"domain":[0,12],"nice":false,"zero":false},"axis":{"values":[0,3,6,9,12],"format":"d","title":"Sleeping time (h)","labelOverlap":false}},"color":{"field":"g","type":"nominal","scale":{"domain":["C","H"],"range":["black","white"]},"legend":null}}},
{"mark":{"type":"rule","color":"black","strokeWidth":1.5},"encoding":{"x":{"field":"a","type":"nominal","sort":null,"axis":null},"xOffset":{"field":"g","type":"nominal","sort":null},"y":{"field":"m","type":"quantitative","axis":null},"y2":{"field":"u"}}},
{"mark":{"type":"point","shape":"stroke","size":49,"filled":false,"color":"black","strokeWidth":1.5,"opacity":1},"encoding":{"x":{"field":"a","type":"nominal","sort":null,"axis":null},"xOffset":{"field":"g","type":"nominal","sort":null},"y":{"field":"u","type":"quantitative","axis":null}}},
{"data":{"values":[{}]},"mark":{"type":"text","align":"left","baseline":"alphabetic","font":"Open Sans","fontSize":15,"fontWeight":"bold","dx":-82,"dy":-32},"encoding":{"y":{"datum":12,"axis":null},"text":{"value":"D"}}}
]}
]},
{"width":1,"height":23,"mark":"point"},
{"spacing":0,"bounds":"flush","resolve":{"scale":{"color":"independent","fill":"independent","stroke":"independent","strokeDash":"independent"}},"hconcat":[
{"width":42,"height":1,"mark":"point"},
{"width":163,"height":130,"data":{"name":"E"},"layer":[
{"mark":{"type":"line","color":"black","strokeWidth":0.8},"encoding":{"x":{"field":"t","type":"quantitative","scale":{"domain":[0,72],"nice":false,"zero":false},"axis":{"values":[12,36,60],"labelExpr":"'Day ' + ((datum.value + 12) / 24)","domain":false,"ticks":false,"labelPadding":10,"labelFontSize":12,"title":null,"labelOverlap":false}},"y":{"field":"c","type":"quantitative","scale":{"domain":[20,80],"nice":false,"zero":false},"axis":{"values":[20,40,60,80],"format":"d","title":"O2 (ml/min/kg)","labelOverlap":false}}}},
{"mark":{"type":"circle","color":"black","size":9,"opacity":1},"encoding":{"x":{"field":"t","type":"quantitative"},"y":{"field":"c","type":"quantitative"}}},
{"mark":{"type":"line","color":"#8a8a8a","strokeWidth":0.8,"strokeDash":[1,1.5]},"encoding":{"x":{"field":"t","type":"quantitative"},"y":{"field":"h","type":"quantitative"}}},
{"mark":{"type":"circle","size":16,"fill":"#a9c9e8","stroke":"#3f6188","strokeWidth":0.6,"opacity":1},"encoding":{"x":{"field":"t","type":"quantitative"},"y":{"field":"h","type":"quantitative"}}},
{"data":{"name":"ld"},"mark":{"type":"rect","stroke":"black","strokeWidth":1.2},"encoding":{"x":{"field":"s","type":"quantitative"},"x2":{"field":"e"},"y":{"datum":21.85},"y2":{"datum":17.23},"fill":{"field":"p","type":"nominal","scale":{"domain":["L","D"],"range":["white","black"]},"legend":null}}},
{"data":{"values":[{}]},"mark":{"type":"rule","color":"black","strokeWidth":1},"encoding":{"x":{"datum":3.1},"x2":{"datum":11},"y":{"datum":31.6}}},
{"data":{"values":[{}]},"mark":{"type":"rule","color":"#8a8a8a","strokeWidth":1,"strokeDash":[1,1.5]},"encoding":{"x":{"datum":3.1},"x2":{"datum":11},"y":{"datum":26.2}}},
{"data":{"values":[{}]},"mark":{"type":"circle","color":"black","size":12,"opacity":1},"encoding":{"x":{"datum":7},"y":{"datum":31.6}}},
{"data":{"values":[{}]},"mark":{"type":"circle","size":18,"fill":"#a9c9e8","stroke":"#3f6188","strokeWidth":0.6,"opacity":1},"encoding":{"x":{"datum":7},"y":{"datum":26.2}}},
{"data":{"values":[{}]},"mark":{"type":"text","align":"left","baseline":"middle","fontSize":11.5},"encoding":{"x":{"datum":15.3},"y":{"datum":31.6},"text":{"value":"Control"}}},
{"data":{"values":[{}]},"mark":{"type":"text","align":"left","baseline":"middle","fontSize":11.5},"encoding":{"x":{"datum":15.3},"y":{"datum":26.2},"text":{"value":"HNF4α"}}},
{"data":{"values":[{}]},"mark":{"type":"text","align":"left","baseline":"middle","fontSize":7.5,"dx":37,"dy":-4.5},"encoding":{"x":{"datum":15.3},"y":{"datum":26.2},"text":{"value":"ΔIEC"}}},
{"data":{"values":[{}]},"mark":{"type":"text","align":"left","baseline":"alphabetic","font":"Open Sans","fontSize":15,"fontWeight":"bold","dx":-38,"dy":-12},"encoding":{"x":{"datum":0},"y":{"datum":80},"text":{"value":"E"}}}
]},
{"width":64,"height":1,"mark":"point"},
{"width":164,"height":130,"data":{"name":"F"},"layer":[
{"mark":{"type":"line","color":"black","strokeWidth":0.8},"encoding":{"x":{"field":"t","type":"quantitative","scale":{"domain":[0,72],"nice":false,"zero":false},"axis":{"values":[12,36,60],"labelExpr":"'Day ' + ((datum.value + 12) / 24)","domain":false,"ticks":false,"labelPadding":10,"labelFontSize":12,"title":null,"labelOverlap":false}},"y":{"field":"c","type":"quantitative","scale":{"domain":[0.7,1.0],"nice":false,"zero":false},"axis":{"values":[0.7,0.8,0.9,1.0],"format":".1f","title":"RER (CO2/O2)","labelOverlap":false}}}},
{"mark":{"type":"circle","color":"black","size":9,"opacity":1},"encoding":{"x":{"field":"t","type":"quantitative"},"y":{"field":"c","type":"quantitative"}}},
{"mark":{"type":"line","color":"#8a8a8a","strokeWidth":0.8,"strokeDash":[1,1.5]},"encoding":{"x":{"field":"t","type":"quantitative"},"y":{"field":"h","type":"quantitative"}}},
{"mark":{"type":"circle","size":16,"fill":"#a9c9e8","stroke":"#3f6188","strokeWidth":0.6,"opacity":1},"encoding":{"x":{"field":"t","type":"quantitative"},"y":{"field":"h","type":"quantitative"}}},
{"data":{"name":"ld"},"mark":{"type":"rect","stroke":"black","strokeWidth":1.2},"encoding":{"x":{"field":"s","type":"quantitative"},"x2":{"field":"e"},"y":{"datum":0.7092},"y2":{"datum":0.6862},"fill":{"field":"p","type":"nominal","scale":{"domain":["L","D"],"range":["white","black"]},"legend":null}}},
{"data":{"values":[{}]},"mark":{"type":"text","align":"left","baseline":"alphabetic","font":"Open Sans","fontSize":15,"fontWeight":"bold","dx":-42,"dy":-12},"encoding":{"x":{"datum":0},"y":{"datum":1.0},"text":{"value":"F"}}}
]},
{"width":59,"height":1,"mark":"point"},
{"width":163,"height":130,"data":{"name":"G"},"layer":[
{"mark":{"type":"line","color":"black","strokeWidth":0.8},"encoding":{"x":{"field":"t","type":"quantitative","scale":{"domain":[0,72],"nice":false,"zero":false},"axis":{"values":[12,36,60],"labelExpr":"'Day ' + ((datum.value + 12) / 24)","domain":false,"ticks":false,"labelPadding":10,"labelFontSize":12,"title":null,"labelOverlap":false}},"y":{"field":"c","type":"quantitative","scale":{"domain":[10,22],"nice":false,"zero":false},"axis":{"values":[10,14,18,22],"format":"d","title":"EE (kcal/h/kg)","labelOverlap":false}}}},
{"mark":{"type":"circle","color":"black","size":9,"opacity":1},"encoding":{"x":{"field":"t","type":"quantitative"},"y":{"field":"c","type":"quantitative"}}},
{"mark":{"type":"line","color":"#8a8a8a","strokeWidth":0.8,"strokeDash":[1,1.5]},"encoding":{"x":{"field":"t","type":"quantitative"},"y":{"field":"h","type":"quantitative"}}},
{"mark":{"type":"circle","size":16,"fill":"#a9c9e8","stroke":"#3f6188","strokeWidth":0.6,"opacity":1},"encoding":{"x":{"field":"t","type":"quantitative"},"y":{"field":"h","type":"quantitative"}}},
{"data":{"name":"ld"},"mark":{"type":"rect","stroke":"black","strokeWidth":1.2},"encoding":{"x":{"field":"s","type":"quantitative"},"x2":{"field":"e"},"y":{"datum":10.37},"y2":{"datum":9.446},"fill":{"field":"p","type":"nominal","scale":{"domain":["L","D"],"range":["white","black"]},"legend":null}}},
{"data":{"values":[{}]},"mark":{"type":"text","align":"left","baseline":"alphabetic","font":"Open Sans","fontSize":15,"fontWeight":"bold","dx":-40,"dy":-12},"encoding":{"x":{"datum":0},"y":{"datum":22},"text":{"value":"G"}}}
]}
]},
{"width":1,"height":15,"mark":"point"},
{"spacing":0,"bounds":"flush","hconcat":[
{"width":40,"height":1,"mark":"point"},
{"width":164,"height":98,"view":{"stroke":"black","strokeWidth":1.5},"layer":[
{"data":{"name":"ph"},"mark":{"type":"rule","color":"black","strokeWidth":1.5},"encoding":{"x":{"field":"p","type":"nominal","sort":null,"bandPosition":0,"scale":{"type":"band","domain":["Light phase","Dark phase"],"paddingInner":0,"paddingOuter":0},"axis":{"orient":"top","domain":false,"ticks":false,"labelPadding":8,"labelFontSize":12,"labelAngle":0,"title":null}}}},
{"data":{"name":"Eb"},"resolve":{"axis":{"x":"independent","y":"independent"}},"layer":[
{"mark":{"type":"bar"},"encoding":{"x":{"field":"b","type":"nominal","sort":null,"scale":{"domain":["L1C","L1H","x1","L2C","L2H","x2","L3C","L3H","x3","N1C","N1H","x4","N2C","N2H","x5","N3C","N3H"],"paddingInner":0,"paddingOuter":0.5},"axis":{"orient":"bottom","values":["L1C","L2C","L3C","N1C","N2C","N3C"],"labelExpr":"'D' + substring(datum.label, 1, 2)","labelOffset":4.56,"ticks":false,"labelPadding":5,"labelFontSize":12,"labelAngle":0,"title":null,"labelOverlap":false}},"y":{"field":"m","type":"quantitative","scale":{"domain":[4,10],"nice":false,"zero":false},"axis":{"values":[4,6,8,10],"format":"d","title":"AUC x 10³","titlePadding":5,"labelOverlap":false}},"y2":{"datum":4},"color":{"field":"g","type":"nominal","scale":{"domain":["C","H"],"range":["black","#91bdf0"]},"legend":null}}},
{"mark":{"type":"rule","color":"black","strokeWidth":1.5},"encoding":{"x":{"field":"b","type":"nominal","sort":null,"axis":null},"y":{"field":"m","type":"quantitative","axis":null},"y2":{"field":"u"}}},
{"mark":{"type":"point","shape":"stroke","size":25,"filled":false,"color":"black","strokeWidth":1.5,"opacity":1},"encoding":{"x":{"field":"b","type":"nominal","sort":null,"axis":null},"y":{"field":"u","type":"quantitative","axis":null}}},
{"data":{"values":[{}]},"mark":{"type":"bar","color":"black","width":18},"encoding":{"x":{"datum":"L1H","axis":null},"y":{"datum":9.65,"axis":null},"y2":{"datum":9.28}}},
{"data":{"values":[{}]},"mark":{"type":"bar","color":"#91bdf0","width":18},"encoding":{"x":{"datum":"L1H","axis":null},"y":{"datum":8.9,"axis":null},"y2":{"datum":8.53}}},
{"data":{"values":[{}]},"mark":{"type":"text","align":"left","baseline":"middle","fontSize":11.5,"dx":14},"encoding":{"x":{"datum":"L1H","axis":null},"y":{"datum":9.47,"axis":null},"text":{"value":"Control"}}},
{"data":{"values":[{}]},"mark":{"type":"text","align":"left","baseline":"middle","fontSize":11.5,"dx":14},"encoding":{"x":{"datum":"L1H","axis":null},"y":{"datum":8.71,"axis":null},"text":{"value":"HNF4α"}}},
{"data":{"values":[{}]},"mark":{"type":"text","align":"left","baseline":"middle","fontSize":7.5,"dx":51,"dy":-4.5},"encoding":{"x":{"datum":"L1H","axis":null},"y":{"datum":8.71,"axis":null},"text":{"value":"ΔIEC"}}}
]}
],"resolve":{"scale":{"x":"independent"},"axis":{"x":"independent"}}},
{"width":66,"height":1,"mark":"point"},
{"width":162,"height":98,"view":{"stroke":"black","strokeWidth":1.5},"layer":[
{"data":{"name":"ph"},"mark":{"type":"rule","color":"black","strokeWidth":1.5},"encoding":{"x":{"field":"p","type":"nominal","sort":null,"bandPosition":0,"scale":{"type":"band","domain":["Light phase","Dark phase"],"paddingInner":0,"paddingOuter":0},"axis":{"orient":"top","domain":false,"ticks":false,"labelPadding":8,"labelFontSize":12,"labelAngle":0,"title":null}}}},
{"data":{"name":"Fb"},"resolve":{"axis":{"x":"independent","y":"independent"}},"layer":[
{"mark":{"type":"bar"},"encoding":{"x":{"field":"b","type":"nominal","sort":null,"scale":{"domain":["L1C","L1H","x1","L2C","L2H","x2","L3C","L3H","x3","N1C","N1H","x4","N2C","N2H","x5","N3C","N3H"],"paddingInner":0,"paddingOuter":0.5},"axis":{"orient":"bottom","values":["L1C","L2C","L3C","N1C","N2C","N3C"],"labelExpr":"'D' + substring(datum.label, 1, 2)","labelOffset":4.5,"ticks":false,"labelPadding":5,"labelFontSize":12,"labelAngle":0,"title":null,"labelOverlap":false}},"y":{"field":"m","type":"quantitative","scale":{"domain":[0.9,1.5],"nice":false,"zero":false},"axis":{"values":[0.9,1.1,1.3,1.5],"format":".1f","title":"AUC x 10²","titlePadding":5,"labelOverlap":false}},"y2":{"datum":0.9},"color":{"field":"g","type":"nominal","scale":{"domain":["C","H"],"range":["black","#91bdf0"]},"legend":null}}},
{"mark":{"type":"rule","color":"black","strokeWidth":1.5},"encoding":{"x":{"field":"b","type":"nominal","sort":null,"axis":null},"y":{"field":"m","type":"quantitative","axis":null},"y2":{"field":"u"}}},
{"mark":{"type":"point","shape":"stroke","size":25,"filled":false,"color":"black","strokeWidth":1.5,"opacity":1},"encoding":{"x":{"field":"b","type":"nominal","sort":null,"axis":null},"y":{"field":"u","type":"quantitative","axis":null}}}
]}
],"resolve":{"scale":{"x":"independent"},"axis":{"x":"independent"}}},
{"width":59,"height":1,"mark":"point"},
{"width":162,"height":98,"view":{"stroke":"black","strokeWidth":1.5},"layer":[
{"data":{"name":"ph"},"mark":{"type":"rule","color":"black","strokeWidth":1.5},"encoding":{"x":{"field":"p","type":"nominal","sort":null,"bandPosition":0,"scale":{"type":"band","domain":["Light phase","Dark phase"],"paddingInner":0,"paddingOuter":0},"axis":{"orient":"top","domain":false,"ticks":false,"labelPadding":8,"labelFontSize":12,"labelAngle":0,"title":null}}}},
{"data":{"name":"Gb"},"resolve":{"axis":{"x":"independent","y":"independent"}},"layer":[
{"mark":{"type":"bar"},"encoding":{"x":{"field":"b","type":"nominal","sort":null,"scale":{"domain":["L1C","L1H","x1","L2C","L2H","x2","L3C","L3H","x3","N1C","N1H","x4","N2C","N2H","x5","N3C","N3H"],"paddingInner":0,"paddingOuter":0.5},"axis":{"orient":"bottom","values":["L1C","L2C","L3C","N1C","N2C","N3C"],"labelExpr":"'D' + substring(datum.label, 1, 2)","labelOffset":4.5,"ticks":false,"labelPadding":5,"labelFontSize":12,"labelAngle":0,"title":null,"labelOverlap":false}},"y":{"field":"m","type":"quantitative","scale":{"domain":[1,3],"nice":false,"zero":false},"axis":{"values":[1,2,3],"format":".0f","title":"AUC x 10³","titlePadding":5,"labelOverlap":false}},"y2":{"datum":1},"color":{"field":"g","type":"nominal","scale":{"domain":["C","H"],"range":["black","#91bdf0"]},"legend":null}}},
{"mark":{"type":"rule","color":"black","strokeWidth":1.5},"encoding":{"x":{"field":"b","type":"nominal","sort":null,"axis":null},"y":{"field":"m","type":"quantitative","axis":null},"y2":{"field":"u"}}},
{"mark":{"type":"point","shape":"stroke","size":25,"filled":false,"color":"black","strokeWidth":1.5,"opacity":1},"encoding":{"x":{"field":"b","type":"nominal","sort":null,"axis":null},"y":{"field":"u","type":"quantitative","axis":null}}}
]}
],"resolve":{"scale":{"x":"independent"},"axis":{"x":"independent"}}}
]},
{"width":1,"height":25,"mark":"point"},
{"spacing":0,"bounds":"flush","resolve":{"scale":{"color":"independent","fill":"independent","stroke":"independent","strokeDash":"independent"}},"hconcat":[
{"width":57,"height":1,"mark":"point"},
{"width":161,"height":129,"data":{"name":"H"},"layer":[
{"mark":{"type":"line","color":"black","strokeWidth":0.8},"encoding":{"x":{"field":"t","type":"quantitative","scale":{"domain":[0,72],"nice":false,"zero":false},"axis":{"values":[12,36,60],"labelExpr":"'Day ' + ((datum.value + 12) / 24)","domain":false,"ticks":false,"labelPadding":10,"labelFontSize":12,"title":null,"labelOverlap":false}},"y":{"field":"c","type":"quantitative","scale":{"domain":[0,80],"nice":false,"zero":false},"axis":{"values":[0,20,40,60,80],"format":"d","title":["Carbohydrate oxidation","(mg/min/kg)"],"labelOverlap":false}}}},
{"mark":{"type":"circle","color":"black","size":9,"opacity":1},"encoding":{"x":{"field":"t","type":"quantitative"},"y":{"field":"c","type":"quantitative"}}},
{"mark":{"type":"line","color":"#8a8a8a","strokeWidth":0.8,"strokeDash":[1,1.5]},"encoding":{"x":{"field":"t","type":"quantitative"},"y":{"field":"h","type":"quantitative"}}},
{"mark":{"type":"circle","size":16,"fill":"#a9c9e8","stroke":"#3f6188","strokeWidth":0.6,"opacity":1},"encoding":{"x":{"field":"t","type":"quantitative"},"y":{"field":"h","type":"quantitative"}}},
{"data":{"name":"ld"},"mark":{"type":"rect","stroke":"black","strokeWidth":1.2},"encoding":{"x":{"field":"s","type":"quantitative"},"x2":{"field":"e"},"y":{"datum":2.48},"y2":{"datum":-3.72},"fill":{"field":"p","type":"nominal","scale":{"domain":["L","D"],"range":["white","black"]},"legend":null}}},
{"data":{"values":[{}]},"mark":{"type":"text","align":"left","baseline":"alphabetic","font":"Open Sans","fontSize":15,"fontWeight":"bold","dx":-53,"dy":-13},"encoding":{"x":{"datum":0},"y":{"datum":80},"text":{"value":"H"}}}
]},
{"width":91,"height":1,"mark":"point"},
{"width":162,"height":129,"data":{"name":"I"},"layer":[
{"mark":{"type":"line","color":"black","strokeWidth":0.8},"encoding":{"x":{"field":"t","type":"quantitative","scale":{"domain":[0,72],"nice":false,"zero":false},"axis":{"values":[12,36,60],"labelExpr":"'Day ' + ((datum.value + 12) / 24)","domain":false,"ticks":false,"labelPadding":10,"labelFontSize":12,"title":null,"labelOverlap":false}},"y":{"field":"c","type":"quantitative","scale":{"domain":[0,30],"nice":false,"zero":false},"axis":{"values":[0,10,20,30],"format":"d","title":["Fat oxidation","(mg/min/kg)"],"labelOverlap":false}}}},
{"mark":{"type":"circle","color":"black","size":9,"opacity":1},"encoding":{"x":{"field":"t","type":"quantitative"},"y":{"field":"c","type":"quantitative"}}},
{"mark":{"type":"line","color":"#8a8a8a","strokeWidth":0.8,"strokeDash":[1,1.5]},"encoding":{"x":{"field":"t","type":"quantitative"},"y":{"field":"h","type":"quantitative"}}},
{"mark":{"type":"circle","size":16,"fill":"#a9c9e8","stroke":"#3f6188","strokeWidth":0.6,"opacity":1},"encoding":{"x":{"field":"t","type":"quantitative"},"y":{"field":"h","type":"quantitative"}}},
{"data":{"name":"ld"},"mark":{"type":"rect","stroke":"black","strokeWidth":1.2},"encoding":{"x":{"field":"s","type":"quantitative"},"x2":{"field":"e"},"y":{"datum":0.93},"y2":{"datum":-1.395},"fill":{"field":"p","type":"nominal","scale":{"domain":["L","D"],"range":["white","black"]},"legend":null}}},
{"data":{"values":[{}]},"mark":{"type":"text","align":"left","baseline":"alphabetic","font":"Open Sans","fontSize":15,"fontWeight":"bold","dx":-54,"dy":-13},"encoding":{"x":{"datum":0},"y":{"datum":30},"text":{"value":"I"}}}
]}
]},
{"width":1,"height":15,"mark":"point"},
{"spacing":0,"bounds":"flush","hconcat":[
{"width":56,"height":1,"mark":"point"},
{"width":162,"height":96,"view":{"stroke":"black","strokeWidth":1.5},"layer":[
{"data":{"name":"ph"},"mark":{"type":"rule","color":"black","strokeWidth":1.5},"encoding":{"x":{"field":"p","type":"nominal","sort":null,"bandPosition":0,"scale":{"type":"band","domain":["Light phase","Dark phase"],"paddingInner":0,"paddingOuter":0},"axis":{"orient":"top","domain":false,"ticks":false,"labelPadding":8,"labelFontSize":12,"labelAngle":0,"title":null}}}},
{"data":{"name":"Hb"},"resolve":{"axis":{"x":"independent","y":"independent"}},"layer":[
{"mark":{"type":"bar"},"encoding":{"x":{"field":"b","type":"nominal","sort":null,"scale":{"domain":["L1C","L1H","x1","L2C","L2H","x2","L3C","L3H","x3","N1C","N1H","x4","N2C","N2H","x5","N3C","N3H"],"paddingInner":0,"paddingOuter":0.5},"axis":{"orient":"bottom","values":["L1C","L2C","L3C","N1C","N2C","N3C"],"labelExpr":"'D' + substring(datum.label, 1, 2)","labelOffset":4.5,"ticks":false,"labelPadding":5,"labelFontSize":12,"labelAngle":0,"title":null,"labelOverlap":false}},"y":{"field":"m","type":"quantitative","scale":{"domain":[0,10],"nice":false,"zero":false},"axis":{"values":[0,2,4,6,8,10],"format":"d","title":"AUC x 10³","titlePadding":5,"labelOverlap":false}},"y2":{"datum":0},"color":{"field":"g","type":"nominal","scale":{"domain":["C","H"],"range":["black","#91bdf0"]},"legend":null}}},
{"mark":{"type":"rule","color":"black","strokeWidth":1.5},"encoding":{"x":{"field":"b","type":"nominal","sort":null,"axis":null},"y":{"field":"m","type":"quantitative","axis":null},"y2":{"field":"u"}}},
{"mark":{"type":"point","shape":"stroke","size":25,"filled":false,"color":"black","strokeWidth":1.5,"opacity":1},"encoding":{"x":{"field":"b","type":"nominal","sort":null,"axis":null},"y":{"field":"u","type":"quantitative","axis":null}}}
]}
],"resolve":{"scale":{"x":"independent"},"axis":{"x":"independent"}}},
{"width":90,"height":1,"mark":"point"},
{"width":162,"height":96,"view":{"stroke":"black","strokeWidth":1.5},"layer":[
{"data":{"name":"ph"},"mark":{"type":"rule","color":"black","strokeWidth":1.5},"encoding":{"x":{"field":"p","type":"nominal","sort":null,"bandPosition":0,"scale":{"type":"band","domain":["Light phase","Dark phase"],"paddingInner":0,"paddingOuter":0},"axis":{"orient":"top","domain":false,"ticks":false,"labelPadding":8,"labelFontSize":12,"labelAngle":0,"title":null}}}},
{"data":{"name":"Ib"},"resolve":{"axis":{"x":"independent","y":"independent"}},"layer":[
{"mark":{"type":"bar"},"encoding":{"x":{"field":"b","type":"nominal","sort":null,"scale":{"domain":["L1C","L1H","x1","L2C","L2H","x2","L3C","L3H","x3","N1C","N1H","x4","N2C","N2H","x5","N3C","N3H"],"paddingInner":0,"paddingOuter":0.5},"axis":{"orient":"bottom","values":["L1C","L2C","L3C","N1C","N2C","N3C"],"labelExpr":"'D' + substring(datum.label, 1, 2)","labelOffset":4.5,"ticks":false,"labelPadding":5,"labelFontSize":12,"labelAngle":0,"title":null,"labelOverlap":false}},"y":{"field":"m","type":"quantitative","scale":{"domain":[0,4],"nice":false,"zero":false},"axis":{"values":[0,1,2,3,4],"format":"d","title":"AUC x 10³","titlePadding":5,"labelOverlap":false}},"y2":{"datum":0},"color":{"field":"g","type":"nominal","scale":{"domain":["C","H"],"range":["black","#91bdf0"]},"legend":null}}},
{"mark":{"type":"rule","color":"black","strokeWidth":1.5},"encoding":{"x":{"field":"b","type":"nominal","sort":null,"axis":null},"y":{"field":"m","type":"quantitative","axis":null},"y2":{"field":"u"}}},
{"mark":{"type":"point","shape":"stroke","size":25,"filled":false,"color":"black","strokeWidth":1.5,"opacity":1},"encoding":{"x":{"field":"b","type":"nominal","sort":null,"axis":null},"y":{"field":"u","type":"quantitative","axis":null}}}
]}
],"resolve":{"scale":{"x":"independent"},"axis":{"x":"independent"}}}
]}
]
}
